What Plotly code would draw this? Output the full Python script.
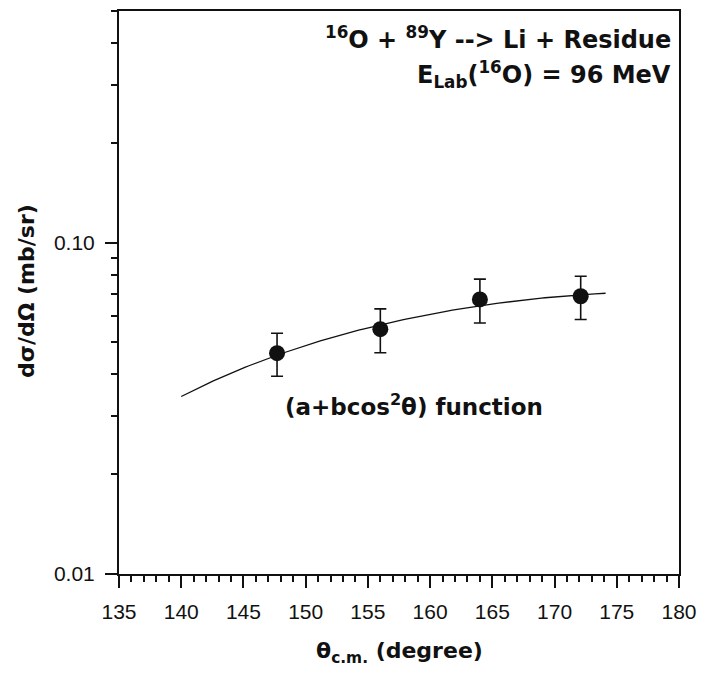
import numpy as np
import plotly.graph_objects as go

# Measured angular distribution of Li fragments
theta_cm = [147.7, 156.0, 164.0, 172.1]          # degree
dsigma = [0.0464, 0.0548, 0.0674, 0.0689]       # mb/sr
dsigma_err = [0.0069, 0.0083, 0.0102, 0.0103]   # mb/sr

# Fitted a + b*cos^2(theta) parameters (mb/sr)
fit_a = -0.0182
fit_b = 0.0895
fit_theta_min, fit_theta_max = 140.0, 174.1

x_ticks = [135, 140, 145, 150, 155, 160, 165, 170, 175, 180]
y_ticks = [0.01, 0.1]
y_ticktext = ["0.01", "0.10"]
y_minor = [0.02, 0.03, 0.04, 0.05, 0.06, 0.07, 0.08, 0.09, 0.2, 0.3, 0.4, 0.5]

TICK_FONT = "Liberation Sans, Arial, sans-serif"
LABEL_FONT = "DejaVu Sans, Verdana, sans-serif"
INK = "#111111"

fit_theta = np.linspace(fit_theta_min, fit_theta_max, 120)
fit_curve = fit_a + fit_b * np.cos(np.radians(fit_theta)) ** 2

fig = go.Figure()
fig.add_trace(go.Scatter(
    x=fit_theta, y=fit_curve, mode="lines",
    line=dict(color=INK, width=1.3), hoverinfo="skip", showlegend=False,
))
fig.add_trace(go.Scatter(
    x=theta_cm, y=dsigma, mode="markers",
    marker=dict(color=INK, size=16, symbol="circle"),
    error_y=dict(type="data", array=dsigma_err, color=INK, thickness=1.6, width=6),
    showlegend=False,
))

axis_common = dict(
    showline=True, linecolor=INK, linewidth=2, mirror=True,
    ticks="outside", tickcolor=INK, tickwidth=2, ticklen=12,
    showgrid=False, zeroline=False,
    tickfont=dict(family=TICK_FONT, size=21, color=INK),
)

fig.update_xaxes(
    range=[135, 180], tickmode="array", tickvals=x_ticks,
    ticktext=[str(v) for v in x_ticks], ticklabelstandoff=6,
    minor=dict(dtick=1, tick0=135, ticks="outside", ticklen=6,
               tickwidth=1.5, tickcolor=INK, showgrid=False),
    **axis_common,
)
fig.update_yaxes(
    type="log", range=[np.log10(0.01), np.log10(0.5)],
    tickmode="array", tickvals=y_ticks, ticktext=y_ticktext, ticklabelstandoff=6,
    minor=dict(tickmode="array", tickvals=y_minor, ticks="outside", ticklen=6,
               tickwidth=1.5, tickcolor=INK, showgrid=False),
    **axis_common,
)

bold = dict(family=LABEL_FONT, color=INK, weight="bold")
annotations = [
    dict(text="<sup>16</sup>O + <sup>89</sup>Y --> Li + Residue",
         x=0.99, y=0.952, xanchor="right", yanchor="middle",
         font=dict(size=24, **bold)),
    dict(text="E<sub>Lab</sub>(<sup>16</sup>O) = 96 MeV",
         x=0.99, y=0.888, xanchor="right", yanchor="middle",
         font=dict(size=24, **bold)),
    dict(text="(a+bcos<sup>2</sup>θ) function",
         x=0.527, y=0.3, xanchor="center", yanchor="middle",
         font=dict(size=23, **bold)),
    dict(text="θ<sub>c.m.</sub> (degree)",
         x=0.5, y=-0.14, xanchor="center", yanchor="middle",
         font=dict(size=22, **bold)),
    dict(text="dσ/dΩ (mb/sr)", textangle=-90,
         x=-0.164, y=0.503, xanchor="center", yanchor="middle",
         font=dict(size=22, **bold)),
]
for ann in annotations:
    ann.update(xref="paper", yref="paper", showarrow=False)

fig.update_layout(
    width=706, height=677,
    margin=dict(l=119, r=23, t=9, b=103),
    paper_bgcolor="white", plot_bgcolor="white",
    annotations=annotations,
)

fig.write_html("out.html")
